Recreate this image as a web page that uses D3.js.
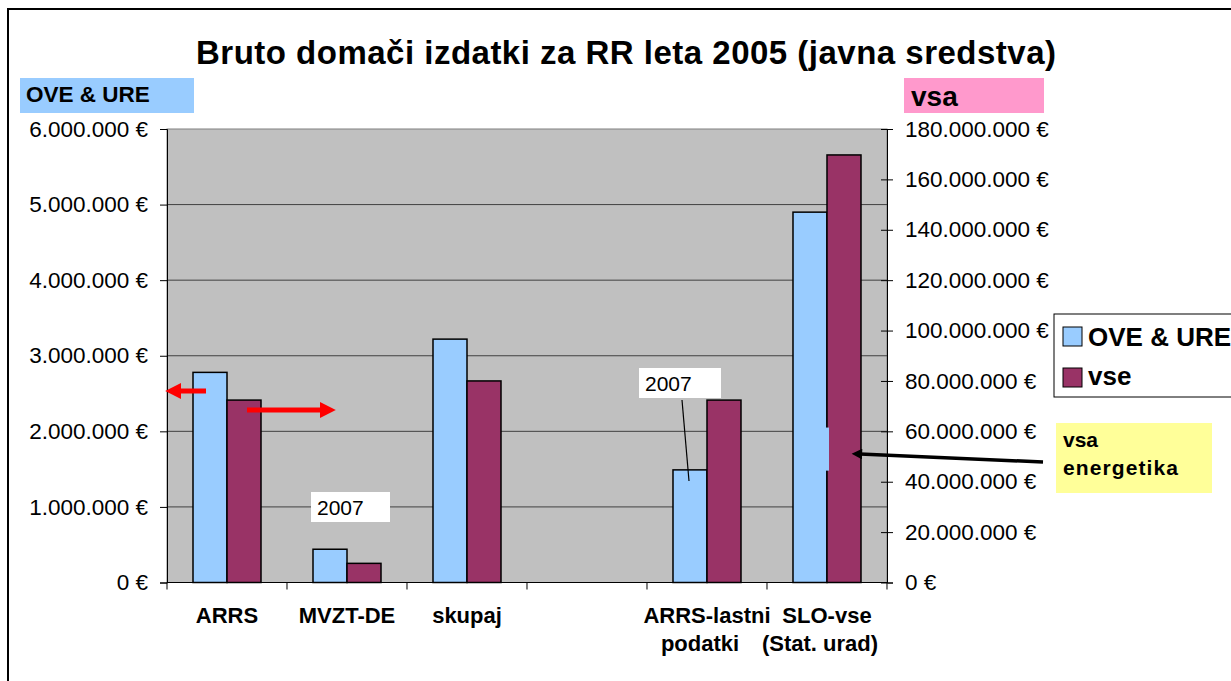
<!DOCTYPE html>
<html>
<head>
<meta charset="utf-8">
<script src="https://cdn.jsdelivr.net/npm/d3@7"></script>
<style>
  body { margin: 0; background: #fff; }
  svg { font-family: "Liberation Sans", Arial, sans-serif; }
</style>
</head>
<body>
<div id="chart"></div>
<script>
// Data
const categories = ["ARRS", "MVZT-DE", "skupaj", "", "ARRS-lastni\npodatki", "SLO-vse\n(Stat. urad)"];
const oveUre = [2780000, 440000, 3220000, null, 1490000, 4900000];   // left axis
const vse = [72400000, 7600000, 80000000, null, 72400000, 169700000]; // right axis
const leftTicks = [0, 1000000, 2000000, 3000000, 4000000, 5000000, 6000000];
const rightTicks = [0, 20000000, 40000000, 60000000, 80000000, 100000000, 120000000, 140000000, 160000000, 180000000];
const seriesNames = ["OVE & URE", "vse"];

const W = 1231, H = 681;
const plot = { left: 167, right: 887, top: 129, bottom: 582.5 };

const svg = d3.select("#chart").append("svg")
  .attr("width", W).attr("height", H);

// outer frame
svg.append("rect")
  .attr("x", 8).attr("y", 9).attr("width", W + 20).attr("height", H + 20)
  .attr("fill", "none").attr("stroke", "#000").attr("stroke-width", 2);

const eur = v => d3.format(",")(v).replace(/,/g, ".") + " €";

const x = d3.scaleBand()
  .domain(d3.range(categories.length))
  .range([plot.left, plot.right])
  .paddingInner(0.4333).paddingOuter(0.2167);
const x1 = d3.scaleBand().domain([0, 1]).range([0, x.bandwidth()]);

const yL = d3.scaleLinear().domain([0, 6000000]).range([plot.bottom, plot.top]);
const yR = d3.scaleLinear().domain([0, 180000000]).range([plot.bottom, plot.top]);

// plot background
svg.append("rect")
  .attr("x", plot.left).attr("y", plot.top)
  .attr("width", plot.right - plot.left).attr("height", plot.bottom - plot.top)
  .attr("fill", "#c0c0c0").attr("stroke", "#808080").attr("stroke-width", 1);

// gridlines
svg.append("g").selectAll("line")
  .data(leftTicks.slice(1, -1))
  .join("line")
  .attr("x1", plot.left).attr("x2", plot.right)
  .attr("y1", d => yL(d)).attr("y2", d => yL(d))
  .attr("stroke", "#404040").attr("stroke-width", 1);

// bars
const groups = svg.append("g").selectAll("g")
  .data(categories.map((c, i) => ({ i, vals: [oveUre[i], vse[i]] })))
  .join("g")
  .attr("transform", d => `translate(${x(d.i)},0)`);

groups.selectAll("rect")
  .data(d => d.vals.map((v, k) => ({ v, k })).filter(e => e.v != null))
  .join("rect")
  .attr("x", e => x1(e.k))
  .attr("width", x1.bandwidth())
  .attr("y", e => (e.k === 0 ? yL : yR)(e.v))
  .attr("height", e => plot.bottom - (e.k === 0 ? yL : yR)(e.v))
  .attr("fill", e => e.k === 0 ? "#99ccff" : "#993366")
  .attr("stroke", "#000").attr("stroke-width", 1.5);

// light patch hiding the border on the last blue bar
svg.append("rect")
  .attr("x", x(5) + x1(1) - 2).attr("y", yL(2050000))
  .attr("width", 4).attr("height", yL(1480000) - yL(2050000))
  .attr("fill", "#99ccff");

// left axis
const axL = svg.append("g")
  .attr("transform", `translate(${plot.left},0)`)
  .call(d3.axisLeft(yL).tickValues(leftTicks).tickFormat(eur).tickSize(7).tickPadding(12));
axL.selectAll("text").attr("font-size", 22.5).attr("fill", "#000")
  .attr("font-family", "Liberation Sans, Arial, sans-serif");
axL.select(".domain").attr("stroke", "#000");

// right axis
const axR = svg.append("g")
  .attr("transform", `translate(${plot.right},0)`)
  .call(d3.axisRight(yR).tickValues(rightTicks).tickFormat(eur).tickSize(6).tickPadding(12));
axR.selectAll(".tick line").attr("x1", -6);
axR.selectAll("text").attr("font-size", 22.5).attr("fill", "#000")
  .attr("font-family", "Liberation Sans, Arial, sans-serif");
axR.select(".domain").attr("stroke", "#000");

// bottom axis with ticks at category boundaries
const bottomTicks = d3.range(categories.length + 1).map(i => plot.left + i * x.step());
svg.append("line")
  .attr("x1", plot.left).attr("x2", plot.right)
  .attr("y1", plot.bottom).attr("y2", plot.bottom)
  .attr("stroke", "#000");
svg.append("g").selectAll("line")
  .data(bottomTicks)
  .join("line")
  .attr("x1", d => d).attr("x2", d => d)
  .attr("y1", plot.bottom).attr("y2", plot.bottom + 7)
  .attr("stroke", "#000");

// category labels
svg.append("g").selectAll("text")
  .data(categories.map((c, i) => ({ c, i })))
  .join("text")
  .attr("x", d => x(d.i) + x.bandwidth() / 2)
  .attr("y", 623)
  .attr("text-anchor", "middle")
  .attr("font-size", 22).attr("font-weight", "bold")
  .selectAll("tspan")
  .data(d => d.c.split("\n").map((t, k) => ({ t, k, cx: x(d.i) + x.bandwidth() / 2 })))
  .join("tspan")
  .attr("x", t => t.k === 0 ? t.cx : t.cx - 7)
  .attr("dy", t => t.k === 0 ? 0 : 28)
  .text(t => t.t);

// title
svg.append("text")
  .attr("x", 196).attr("y", 64)
  .attr("font-size", 33).attr("font-weight", "bold")
  .attr("textLength", 860)
  .text("Bruto domači izdatki za RR leta 2005 (javna sredstva)");

// axis labels
svg.append("rect").attr("x", 20).attr("y", 78).attr("width", 174).attr("height", 35).attr("fill", "#99ccff");
svg.append("text").attr("x", 26).attr("y", 102).attr("font-size", 22.5).attr("font-weight", "bold").text(seriesNames[0]);
svg.append("rect").attr("x", 904).attr("y", 78).attr("width", 140).attr("height", 35).attr("fill", "#ff99cc");
svg.append("text").attr("x", 911).attr("y", 106).attr("font-size", 28).attr("font-weight", "bold").text("vsa");

// legend
const lg = svg.append("g");
lg.append("rect").attr("x", 1054).attr("y", 314).attr("width", 200).attr("height", 83)
  .attr("fill", "#fff").attr("stroke", "#000").attr("stroke-width", 1);
seriesNames.forEach((s, k) => {
  lg.append("rect").attr("x", 1063).attr("y", 327 + k * 41).attr("width", 19).attr("height", 19)
    .attr("fill", k === 0 ? "#99ccff" : "#993366").attr("stroke", "#000").attr("stroke-width", 1);
  lg.append("text").attr("x", 1088).attr("y", 346 + k * 39)
    .attr("font-size", 26).attr("font-weight", "bold").text(s);
});

// "2007" notes
svg.append("rect").attr("x", 311).attr("y", 492).attr("width", 79).attr("height", 30).attr("fill", "#fff");
svg.append("text").attr("x", 317).attr("y", 515).attr("font-size", 21).text("2007");
svg.append("rect").attr("x", 639).attr("y", 368).attr("width", 82).attr("height", 30).attr("fill", "#fff");
svg.append("text").attr("x", 645).attr("y", 391).attr("font-size", 21).text("2007");
svg.append("line").attr("x1", 682).attr("y1", 400).attr("x2", 689).attr("y2", 481)
  .attr("stroke", "#000").attr("stroke-width", 1.2);

// yellow note
svg.append("rect").attr("x", 1056).attr("y", 423).attr("width", 156).attr("height", 70).attr("fill", "#ffff99");
svg.append("text").attr("x", 1063).attr("y", 447).attr("font-size", 21).attr("font-weight", "bold").text("vsa");
svg.append("text").attr("x", 1063).attr("y", 475).attr("font-size", 21).attr("font-weight", "bold")
  .attr("textLength", 115).text("energetika");

// arrows
const defs = svg.append("defs");
defs.append("marker").attr("id", "redHead").attr("viewBox", "0 0 10 10")
  .attr("refX", 2).attr("refY", 5).attr("markerWidth", 3.2).attr("markerHeight", 3.2)
  .attr("markerUnits", "strokeWidth").attr("orient", "auto")
  .append("path").attr("d", "M0,0 L10,5 L0,10 Z").attr("fill", "#ff0000");
defs.append("marker").attr("id", "blackHead").attr("viewBox", "0 0 10 10")
  .attr("refX", 2).attr("refY", 5).attr("markerWidth", 4).attr("markerHeight", 3)
  .attr("markerUnits", "strokeWidth").attr("orient", "auto")
  .append("path").attr("d", "M0,0 L10,5 L0,10 Z").attr("fill", "#000");

svg.append("line").attr("x1", 206).attr("y1", 391).attr("x2", 178).attr("y2", 391)
  .attr("stroke", "#ff0000").attr("stroke-width", 5).attr("marker-end", "url(#redHead)");
svg.append("line").attr("x1", 247).attr("y1", 410).attr("x2", 323).attr("y2", 410)
  .attr("stroke", "#ff0000").attr("stroke-width", 5).attr("marker-end", "url(#redHead)");
svg.append("line").attr("x1", 1043).attr("y1", 462).attr("x2", 860).attr("y2", 454)
  .attr("stroke", "#000").attr("stroke-width", 3.5).attr("marker-end", "url(#blackHead)");
</script>
</body>
</html>
